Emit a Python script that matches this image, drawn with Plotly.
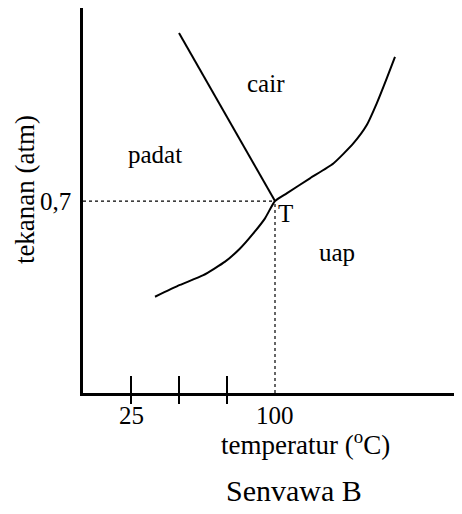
import plotly.graph_objects as go

# Data
temp_fusion = [50, 100]
press_fusion = [1.313, 0.70]

temp_vapor = [37.5, 50.5, 62.7, 74.0, 81.8, 88.7, 94.8, 100, 106.1, 118.2, 130.4, 140.8, 147.8, 153.0, 158.2, 162.5]
press_vapor = [0.351, 0.394, 0.430, 0.479, 0.527, 0.582, 0.637, 0.700, 0.728, 0.783, 0.837, 0.910, 0.977, 1.056, 1.147, 1.226]

triple_temp = 100
triple_press = 0.7

x_tick_vals = [25, 50, 75]
x_label_vals = [25, 100]
x_label_text = ["25", "100"]
y_tick_vals = [0.7]
y_tick_text = ["0,7"]

region_labels = ["cair", "padat", "uap", "T"]
region_x = [95.1, 37.5, 132.5, 105.6]
region_y = [1.129, 0.868, 0.513, 0.655]

FONT = "Liberation Serif"

fig = go.Figure()

# dotted guide lines to triple point
fig.add_trace(go.Scatter(x=[0, triple_temp], y=[triple_press, triple_press], mode="lines",
                         line=dict(color="black", width=1.2, dash="dot"), hoverinfo="skip"))
fig.add_trace(go.Scatter(x=[triple_temp, triple_temp], y=[0, triple_press], mode="lines",
                         line=dict(color="black", width=1.2, dash="dot"), hoverinfo="skip"))

fig.add_trace(go.Scatter(x=temp_fusion, y=press_fusion, mode="lines",
                         line=dict(color="black", width=2)))
fig.add_trace(go.Scatter(x=temp_vapor, y=press_vapor, mode="lines",
                         line=dict(color="black", width=2, shape="spline", smoothing=0.5)))

for t, x, y in zip(region_labels, region_x, region_y):
    fig.add_annotation(x=x, y=y, xref="x", yref="y", text=t, showarrow=False,
                       font=dict(family=FONT, size=25, color="black"),
                       xanchor="center", yanchor="middle")

for v, t in zip(x_label_vals, x_label_text):
    fig.add_annotation(x=v, y=0, xref="x", yref="y", text=t,
                       showarrow=False, yshift=-22, font=dict(family=FONT, size=25, color="black"),
                       xanchor="center", yanchor="middle")

fig.add_annotation(x=0.588, y=-0.1299, xref="paper", yref="paper",
                   text="temperatur (<sup>o</sup>C)", showarrow=False,
                   font=dict(family=FONT, size=27, color="black"),
                   xanchor="center", yanchor="middle")
fig.add_annotation(x=0.557, y=-0.252, xref="paper", yref="paper",
                   text="Senvawa B", showarrow=False,
                   font=dict(family=FONT, size=30, color="black"),
                   xanchor="center", yanchor="middle")
fig.add_annotation(x=-0.153, y=0.527, xref="paper", yref="paper",
                   text="tekanan (atm)", showarrow=False, textangle=-90,
                   font=dict(family=FONT, size=27, color="black"),
                   xanchor="center", yanchor="middle")

fig.update_layout(
    width=454, height=506,
    margin=dict(l=75, r=0, t=0, b=121),
    paper_bgcolor="white", plot_bgcolor="white",
    showlegend=False,
    xaxis=dict(range=[0, 197.4], showgrid=False, zeroline=False,
               showline=True, linecolor="black", linewidth=2.5,
               tickmode="array", tickvals=x_tick_vals, showticklabels=False,
               ticks="outside", ticklen=8, tickwidth=2, tickcolor="black",
               minor=dict(tickmode="array", tickvals=x_tick_vals, ticks="inside",
                          ticklen=17, tickwidth=2, tickcolor="black")),
    yaxis=dict(range=[0, 1.404], showgrid=False, zeroline=False,
               showline=True, linecolor="black", linewidth=2.5,
               tickmode="array", tickvals=y_tick_vals, ticktext=y_tick_text,
               ticks="", tickfont=dict(family=FONT, size=25, color="black"),
               ticklabelstandoff=4),
)

fig.write_html("out.html")
